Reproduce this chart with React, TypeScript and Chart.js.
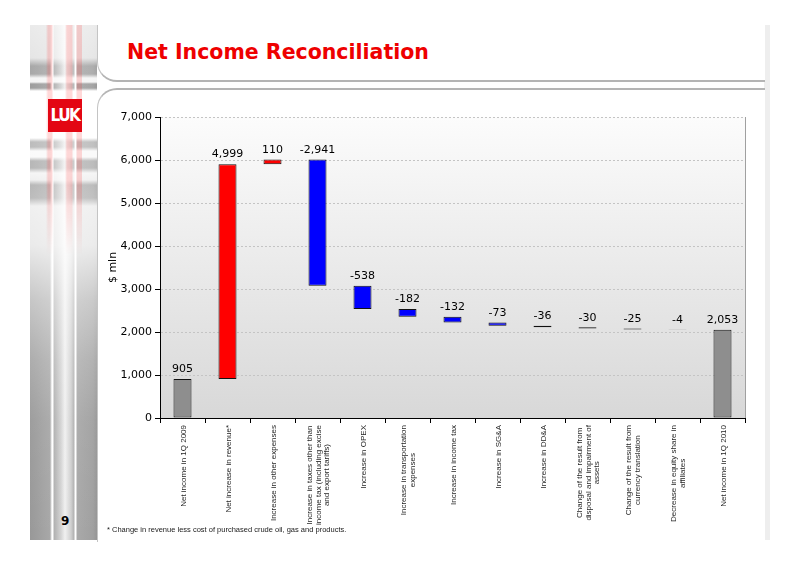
import React, { useEffect, useRef } from "react";
import { Chart, registerables } from "chart.js";

Chart.register(...registerables);

// ---- data ----
const categories: string[][] = [
  ["Net income in 1Q 2009"],
  ["Net increase in revenue*"],
  ["Increase in other expenses"],
  ["Increase in taxes other than", "income tax (including excise", "and export tariffs)"],
  ["Increase in OPEX"],
  ["Increase in transportation", "expenses"],
  ["Increase in income tax"],
  ["Increase in SG&A"],
  ["Increase in DD&A"],
  ["Change of the result from", "disposal and impairment of", "assets"],
  ["Change of the result from", "currency translation"],
  ["Decrease in equity share in", "affiliates"],
  ["Net income in 1Q 2010"],
];
const values: number[] = [905, 4999, 110, -2941, -538, -182, -132, -73, -36, -30, -25, -4, 2053];
const isTotal: boolean[] = [true, false, false, false, false, false, false, false, false, false, false, false, true];
const yMin = 0;
const yMax = 7000;
const yStep = 1000;
const yTitle = "$ mln";
const chartTitle = "Net Income Reconciliation";
const footnote = "* Change in revenue less cost of purchased crude oil, gas and products.";
const pageNumber = "9";

// floating ranges built from the values
const ranges: [number, number][] = (() => {
  let s = 0;
  return values.map((v, i) => {
    if (isTotal[i]) {
      s = v;
      return [0, v] as [number, number];
    }
    const r: [number, number] = [s, s + v];
    s += v;
    return r;
  });
})();
const valueLabels = values.map((v) => v.toLocaleString("en-US"));
const barColors = values.map((v, i) => (isTotal[i] ? "#8e8e8e" : v >= 0 ? "#ff0000" : "#0000ff"));

const extrasPlugin = {
  id: "extras",
  beforeDraw(chart: any) {
    const { ctx, chartArea } = chart;
    const { left, right, top, bottom } = chartArea;
    ctx.save();
    const g = ctx.createLinearGradient(0, top, 0, bottom);
    g.addColorStop(0, "#fcfcfc");
    g.addColorStop(1, "#d8d8d8");
    ctx.fillStyle = g;
    ctx.fillRect(left, top, right - left, bottom - top);
    ctx.strokeStyle = "#a0a0a0";
    ctx.lineWidth = 1;
    ctx.beginPath();
    ctx.moveTo(Math.round(right) + 0.5, top);
    ctx.lineTo(Math.round(right) + 0.5, bottom);
    ctx.stroke();
    ctx.restore();
  },
  afterDraw(chart: any) {
    const { ctx, chartArea, scales } = chart;
    const xs = scales.x;
    const ys = scales.y;
    ctx.save();
    // value labels
    ctx.font = '11px "DejaVu Sans"';
    ctx.fillStyle = "#000";
    ctx.textAlign = "center";
    ctx.textBaseline = "middle";
    ranges.forEach((r, i) => {
      const topPx = ys.getPixelForValue(Math.max(r[0], r[1]));
      ctx.fillText(valueLabels[i], xs.getPixelForValue(i), topPx - 9.5);
    });
    // category labels
    ctx.font = '8px "Liberation Sans"';
    ctx.fillStyle = "#262626";
    categories.forEach((lines, i) => {
      const cx = xs.getPixelForValue(i);
      const maxW = Math.max(...lines.map((l) => ctx.measureText(l).width));
      const cy = chartArea.bottom + 7 + maxW / 2;
      lines.forEach((line, j) => {
        const lx = cx + 1 + (j - (lines.length - 1) / 2) * 8.5;
        ctx.save();
        ctx.translate(lx, cy);
        ctx.rotate(-Math.PI / 2);
        ctx.fillText(line, 0, 0);
        ctx.restore();
      });
    });
    // y axis title
    ctx.font = '11px "DejaVu Sans"';
    ctx.fillStyle = "#000";
    ctx.save();
    ctx.translate(chartArea.left - 47, (chartArea.top + chartArea.bottom) / 2);
    ctx.rotate(-Math.PI / 2);
    ctx.fillText(yTitle, 0, 0);
    ctx.restore();
    ctx.restore();
  },
};

function WaterfallChart() {
  const ref = useRef<HTMLCanvasElement | null>(null);
  useEffect(() => {
    if (!ref.current) return;
    const chart = new Chart(ref.current, {
      type: "bar",
      data: {
        labels: categories.map((c) => c.join(" ")),
        datasets: [
          {
            data: ranges as any,
            backgroundColor: barColors,
            borderColor: "#111",
            borderWidth: 1,
            borderSkipped: false,
            barPercentage: 0.8,
            categoryPercentage: 0.5,
          },
        ],
      },
      options: {
        responsive: false,
        animation: false,
        devicePixelRatio: 1,
        layout: { padding: { top: 117, right: 55, left: 0, bottom: 0 } },
        plugins: { legend: { display: false }, tooltip: { enabled: false } },
        scales: {
          x: {
            offset: true,
            grid: {
              display: true,
              drawOnChartArea: false,
              offset: true,
              tickLength: 5,
              tickColor: "#000",
              color: "#000",
            },
            border: { color: "#000", width: 1 },
            ticks: { display: false },
            afterFit: (s: any) => {
              s.height = 148;
            },
          },
          y: {
            min: yMin,
            max: yMax,
            ticks: {
              stepSize: yStep,
              color: "#000",
              padding: 3,
              font: { family: "DejaVu Sans", size: 11 },
              callback: (v: any) => Number(v).toLocaleString("en-US"),
            },
            grid: {
              color: "#c4c4c4",
              tickColor: "#000",
              tickLength: 5,
              tickBorderDash: [],
            },
            border: { color: "#000", width: 1, dash: [2, 2] },
            afterFit: (s: any) => {
              s.width = 160;
            },
          },
        },
      } as any,
      plugins: [extrasPlugin],
    });
    return () => chart.destroy();
  }, []);
  return (
    <canvas
      ref={ref}
      width={800}
      height={566}
      style={{ position: "absolute", left: 0, top: 0, width: 800, height: 566, zIndex: 5 }}
    />
  );
}

export default function App() {
  const whiteOverlay =
    "linear-gradient(to bottom," +
    [
      [0.8, 0], [0.75, 33], [0.15, 41], [0.15, 49], [0.9, 53], [0.9, 57], [0.05, 59], [0.05, 63],
      [1, 66], [1, 113], [0.35, 117], [0.35, 122], [0.95, 126], [0.95, 132], [0.3, 136], [0.3, 143],
      [0.9, 148], [0.85, 155], [0.3, 160], [0.35, 173], [0.85, 181], [0.8, 220], [0.45, 275],
      [0.2, 335], [0.05, 395], [0, 515],
    ]
      .map(([a, p]) => `rgba(255,255,255,${a}) ${p}px`)
      .join(",") +
    ")";
  return (
    <div
      style={{
        position: "absolute",
        left: 0,
        top: 0,
        width: 800,
        height: 566,
        background: "#fff",
        overflow: "hidden",
        fontFamily: "DejaVu Sans",
      }}
    >
      {/* left stripe */}
      <div
        style={{
          position: "absolute",
          left: 30,
          top: 25,
          width: 67,
          height: 515,
          background:
            "linear-gradient(to right, #989898 0px, #a8a8a8 20px, #ffffff 22px, #ffffff 23px, #b0b0b0 24px, #d4d4d4 31px, #f0f0f0 35px, #d0d0d0 41px, #b0b0b0 44px, #ffffff 45px, #ffffff 46px, #a9a9a9 47px, #a0a0a0 63px, #959595 67px)",
        }}
      />
      <div style={{ position: "absolute", left: 30, top: 25, width: 67, height: 515, background: whiteOverlay }} />
      <div
        style={{
          position: "absolute",
          left: 46,
          top: 25,
          width: 36,
          height: 230,
          background:
            "linear-gradient(to right, rgba(255,40,40,0) 0px, rgba(255,40,40,0.18) 2px, rgba(255,40,40,0.18) 6px, rgba(255,40,40,0) 7px, rgba(255,40,40,0) 19px, rgba(255,40,40,0.18) 21px, rgba(255,40,40,0.18) 26px, rgba(255,40,40,0) 27px, rgba(255,40,40,0) 30px, rgba(255,40,40,0.18) 31px, rgba(255,40,40,0.18) 36px)",
          WebkitMaskImage: "linear-gradient(to bottom, black 0px, black 160px, transparent 230px)",
          maskImage: "linear-gradient(to bottom, black 0px, black 160px, transparent 230px)",
        } as any}
      />
      {/* logo */}
      <div
        style={{
          position: "absolute",
          left: 48,
          top: 99,
          width: 34,
          height: 33,
          background: "#e30613",
          color: "#fff",
          fontWeight: "bold",
          fontSize: 17,
          lineHeight: "33px",
          textAlign: "center",
          letterSpacing: -1.5,
          fontFamily: "'DejaVu Sans Condensed', 'DejaVu Sans'",
          zIndex: 3,
        }}
      >
        LUK
      </div>
      {/* page number */}
      <div
        style={{
          position: "absolute",
          left: 61,
          top: 513,
          fontSize: 12,
          fontWeight: "bold",
          lineHeight: "16px",
          color: "#000",
          zIndex: 3,
        }}
      >
        {pageNumber}
      </div>
      {/* right strip */}
      <div style={{ position: "absolute", left: 764, top: 25, width: 6, height: 515, background: "#eeeeee" }} />
      {/* title panel */}
      <div
        style={{
          position: "absolute",
          left: 97,
          top: 25,
          width: 667,
          height: 55,
          borderLeft: "1px solid #c4c4c4",
          borderBottom: "2px solid #b4b4b4",
          borderBottomLeftRadius: 20,
          background: "#fff",
          zIndex: 2,
        }}
      />
      <div
        style={{
          position: "absolute",
          left: 127,
          top: 40,
          fontSize: 20.5,
          lineHeight: "24px",
          fontWeight: "bold",
          color: "#ee0000",
          whiteSpace: "nowrap",
          zIndex: 3,
        }}
      >
        {chartTitle}
      </div>
      {/* chart panel */}
      <div
        style={{
          position: "absolute",
          left: 97,
          top: 88,
          width: 667,
          height: 452,
          borderTop: "2px solid #b4b4b4",
          borderLeft: "1px solid #c4c4c4",
          borderTopLeftRadius: 20,
          background: "#fff",
          zIndex: 2,
        }}
      />
      <WaterfallChart />
      <div
        style={{
          position: "absolute",
          left: 107,
          top: 525,
          fontSize: 7.5,
          lineHeight: "10px",
          fontFamily: "Liberation Sans",
          color: "#1a1a1a",
          whiteSpace: "nowrap",
          zIndex: 6,
        }}
      >
        {footnote}
      </div>
    </div>
  );
}
